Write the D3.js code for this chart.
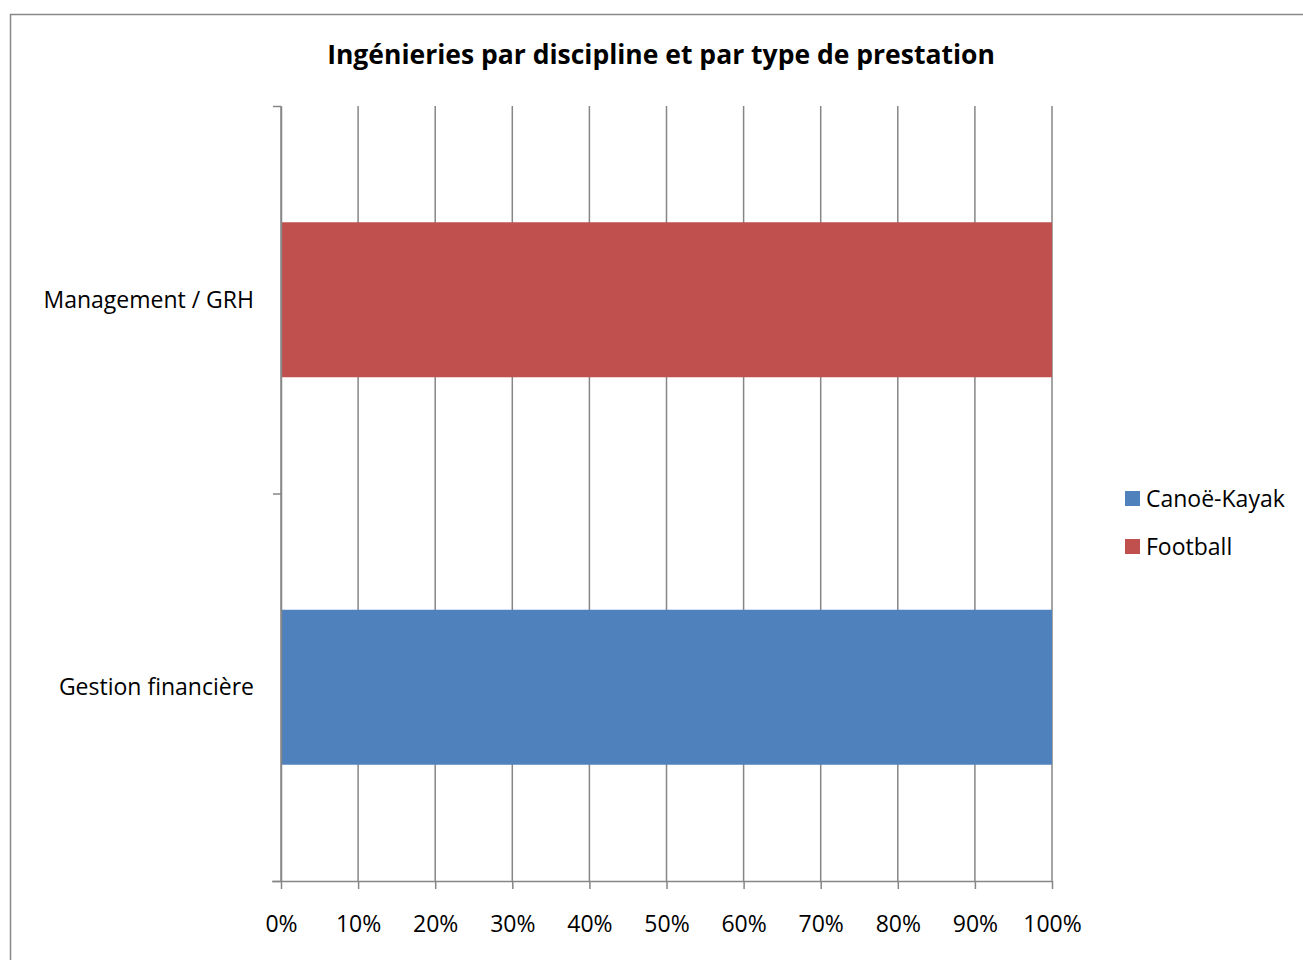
<!DOCTYPE html>
<html>
<head>
<meta charset="utf-8">
<script src="https://cdn.jsdelivr.net/npm/d3@7"></script>
<style>
  body { margin: 0; background: #fff; }
  svg { display: block; font-family: "Open Sans", sans-serif; }
</style>
</head>
<body>
<div id="chart"></div>
<script>
const categories = ['Gestion financière', 'Management / GRH'];
const seriesNames = ['Canoë-Kayak', 'Football'];
const canoeValues = [1, 0];
const footballValues = [0, 1];
const xTicks = [0, 0.1, 0.2, 0.3, 0.4, 0.5, 0.6, 0.7, 0.8, 0.9, 1];
const colors = ['#4f81bd', '#c0504d'];

const W = 1303, H = 960;
const margin = { top: 106, left: 281, right: 251, bottom: 79 };
const width = W - margin.left - margin.right;
const height = H - margin.top - margin.bottom;
const labelSize = '23px';

const svg = d3.select('#chart').append('svg')
    .attr('width', W)
    .attr('height', H);

// chart frame
svg.append('rect')
    .attr('x', 10.5).attr('y', 14.5)
    .attr('width', W).attr('height', H)
    .attr('fill', 'none')
    .attr('stroke', '#888')
    .attr('stroke-width', 1.5);

svg.append('text')
    .attr('x', 661).attr('y', 64)
    .attr('text-anchor', 'middle')
    .style('font-size', '26.5px')
    .style('font-weight', 'bold')
    .text('Ingénieries par discipline et par type de prestation');

const g = svg.append('g')
    .attr('transform', `translate(${margin.left},${margin.top})`);

const x = d3.scaleLinear().domain([0, 1]).range([0, width]);

// bottom category first, like Excel
const y = d3.scaleBand()
    .domain(categories.slice().reverse())
    .range([0, height])
    .paddingInner(0.6)
    .paddingOuter(0.3);

// gridlines
g.append('g')
    .selectAll('line')
    .data(xTicks)
    .enter()
    .append('line')
    .attr('x1', d => x(d)).attr('x2', d => x(d))
    .attr('y1', 0).attr('y2', height)
    .attr('stroke', '#868686')
    .attr('stroke-width', 1.5);

// stacked bars
const rows = categories.map((c, i) => ({ cat: c, 'Canoë-Kayak': canoeValues[i], 'Football': footballValues[i] }));
const stack = d3.stack().keys(seriesNames)(rows);

g.selectAll('.series')
    .data(stack)
    .enter()
    .append('g')
    .attr('fill', (d, i) => colors[i])
    .selectAll('rect')
    .data(d => d)
    .enter()
    .append('rect')
    .attr('x', d => x(d[0]))
    .attr('y', d => y(d.data.cat))
    .attr('width', d => x(d[1]) - x(d[0]))
    .attr('height', y.bandwidth());

// x axis
const xAxis = g.append('g')
    .attr('transform', `translate(0,${height})`)
    .call(d3.axisBottom(x).tickValues(xTicks).tickFormat(d3.format('.0%')).tickSize(8).tickSizeOuter(0).tickPadding(27));
xAxis.select('.domain').attr('d', `M-9,0.5H${width}`);

// y axis
const yCats = d3.scaleLinear().domain([0, 2]).range([height, 0]);
const yAxis = g.append('g')
    .call(d3.axisLeft(yCats).ticks(2).tickFormat('').tickSize(8).tickSizeOuter(0));

g.selectAll('.cat-label')
    .data(categories)
    .enter()
    .append('text')
    .attr('class', 'cat-label')
    .attr('x', -27)
    .attr('y', d => y(d) + y.bandwidth() / 2)
    .attr('dy', '0.35em')
    .attr('text-anchor', 'end')
    .style('font-size', labelSize)
    .text(d => d);

[xAxis, yAxis].forEach(a => {
    a.selectAll('.domain, .tick line').attr('stroke', '#868686').attr('stroke-width', 1.5);
    a.selectAll('text').style('font-size', labelSize).attr('fill', '#000').style('font-family', '"Open Sans", sans-serif');
});

// legend
const legend = svg.selectAll('.legend')
    .data(seriesNames)
    .enter()
    .append('g')
    .attr('transform', (d, i) => `translate(1125,${491 + i * 48})`);

legend.append('rect')
    .attr('width', 15).attr('height', 15)
    .attr('fill', (d, i) => colors[i]);

legend.append('text')
    .attr('x', 21).attr('y', 7.5)
    .attr('dy', '0.35em')
    .style('font-size', labelSize)
    .text(d => d);
</script>
</body>
</html>
